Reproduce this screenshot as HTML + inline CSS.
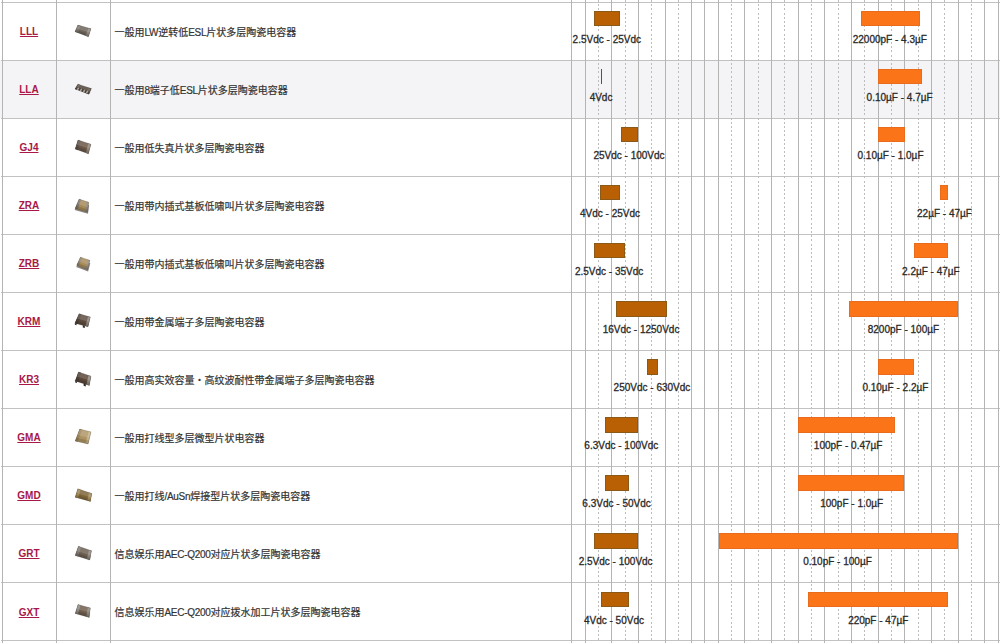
<!DOCTYPE html>
<html lang="zh-CN"><head><meta charset="utf-8"><title>多层陶瓷电容器</title>
<style>
html,body{margin:0;padding:0;background:#fff;}
body{width:1000px;height:643px;overflow:hidden;position:relative;font-family:"Liberation Sans","Noto Sans CJK SC",sans-serif;color:#333;}
.r{position:absolute;left:0;width:1000px;}
.g{background:#f4f4f6;}
.hl{position:absolute;left:1px;width:999px;height:1px;background:#c2c2c2;}
.vl{position:absolute;top:0;height:643px;width:1px;background:#b4b4b4;}
.vd{position:absolute;top:0;height:643px;width:1px;background:repeating-linear-gradient(to bottom,#bcbcbc 0,#bcbcbc 2px,transparent 2px,transparent 4.2px);}
.code{position:absolute;left:2px;width:54px;text-align:center;font-weight:bold;font-size:10px;line-height:12px;}
.code a{color:#a81847;text-decoration:underline;}
.l{letter-spacing:-0.3px;}
.desc{position:absolute;left:114.5px;font-size:10px;line-height:12px;white-space:nowrap;color:#333;-webkit-text-stroke:0.2px #333;}
.bar{position:absolute;height:15.3px;box-sizing:border-box;}
.vb{background:#ba6004;border:1px solid #8a5a16;}
.thin{background:#6a5024;border:0;}
.cb{background:#fc7418;border:1px solid #e86c1c;}
.lb{position:absolute;font-size:10px;line-height:12px;white-space:nowrap;text-align:center;width:200px;color:#2a2a2a;-webkit-text-stroke:0.3px #2a2a2a;}
.chip{position:absolute;}
</style></head><body>

<div class="r g" style="top:60.05px;height:58.05px"></div>
<div class="hl" style="top:1.5px"></div>
<div class="hl" style="top:59.55px"></div>
<div class="hl" style="top:117.6px"></div>
<div class="hl" style="top:175.65px"></div>
<div class="hl" style="top:233.7px"></div>
<div class="hl" style="top:291.75px"></div>
<div class="hl" style="top:349.8px"></div>
<div class="hl" style="top:407.85px"></div>
<div class="hl" style="top:465.9px"></div>
<div class="hl" style="top:523.95px"></div>
<div class="hl" style="top:582px"></div>
<div class="hl" style="top:640.05px"></div>
<div class="vl" style="left:1.5px"></div>
<div class="vl" style="left:55.5px"></div>
<div class="vl" style="left:109.5px"></div>
<div class="vl" style="left:571.25px"></div>
<div class="vl" style="left:584.57px"></div>
<div class="vd" style="left:597.9px"></div>
<div class="vl" style="left:611.22px"></div>
<div class="vd" style="left:624.55px"></div>
<div class="vl" style="left:637.87px"></div>
<div class="vd" style="left:651.19px"></div>
<div class="vl" style="left:664.52px"></div>
<div class="vd" style="left:677.84px"></div>
<div class="vl" style="left:691.17px"></div>
<div class="vl" style="left:704.49px"></div>
<div class="vl" style="left:717.81px"></div>
<div class="vd" style="left:731.14px"></div>
<div class="vl" style="left:744.46px"></div>
<div class="vd" style="left:757.79px"></div>
<div class="vl" style="left:771.11px"></div>
<div class="vd" style="left:784.43px"></div>
<div class="vl" style="left:797.76px"></div>
<div class="vd" style="left:811.08px"></div>
<div class="vl" style="left:824.41px"></div>
<div class="vd" style="left:837.73px"></div>
<div class="vl" style="left:851.05px"></div>
<div class="vd" style="left:864.38px"></div>
<div class="vl" style="left:877.7px"></div>
<div class="vd" style="left:891.03px"></div>
<div class="vl" style="left:904.35px"></div>
<div class="vd" style="left:917.67px"></div>
<div class="vl" style="left:931px"></div>
<div class="vd" style="left:944.32px"></div>
<div class="vl" style="left:957.65px"></div>
<div class="vd" style="left:970.97px"></div>
<div class="vl" style="left:984.29px"></div>
<div class="vl" style="left:997.62px"></div>
<div class="code" style="top:26px"><a>LLL</a></div>
<div class="desc" style="top:26.8px">一般用<span class="l">LW</span>逆转低<span class="l">ESL</span>片状多层陶瓷电容器</div>
<div class="bar vb" style="left:594px;top:11px;width:26px"></div>
<div class="lb" style="left:506.8px;top:34px">2.5Vdc - 25Vdc</div>
<div class="bar cb" style="left:860.5px;top:11px;width:59.5px"></div>
<div class="lb" style="left:789.8px;top:34px">22000pF - 4.3µF</div>
<div class="code" style="top:84.05px"><a>LLA</a></div>
<div class="desc" style="top:84.85px">一般用<span class="l">8</span>端子低<span class="l">ESL</span>片状多层陶瓷电容器</div>
<div class="bar thin" style="left:600.5px;top:69.05px;width:1.5px"></div>
<div class="lb" style="left:501.05px;top:92.05px">4Vdc</div>
<div class="bar cb" style="left:878.3px;top:69.05px;width:43.7px"></div>
<div class="lb" style="left:799.6px;top:92.05px">0.10µF - 4.7µF</div>
<div class="code" style="top:142.1px"><a>GJ4</a></div>
<div class="desc" style="top:142.9px">一般用低失真片状多层陶瓷电容器</div>
<div class="bar vb" style="left:620.5px;top:127.1px;width:17.6px"></div>
<div class="lb" style="left:529px;top:150.1px">25Vdc - 100Vdc</div>
<div class="bar cb" style="left:878.3px;top:127.1px;width:26.3px"></div>
<div class="lb" style="left:790.5px;top:150.1px">0.10µF - 1.0µF</div>
<div class="code" style="top:200.15px"><a>ZRA</a></div>
<div class="desc" style="top:200.95px">一般用带内插式基板低啸叫片状多层陶瓷电容器</div>
<div class="bar vb" style="left:600.3px;top:185.15px;width:20px"></div>
<div class="lb" style="left:510px;top:208.15px">4Vdc - 25Vdc</div>
<div class="bar cb" style="left:940.1px;top:185.15px;width:8.4px"></div>
<div class="lb" style="left:844.5px;top:208.15px">22µF - 47µF</div>
<div class="code" style="top:258.2px"><a>ZRB</a></div>
<div class="desc" style="top:259px">一般用带内插式基板低啸叫片状多层陶瓷电容器</div>
<div class="bar vb" style="left:594px;top:243.2px;width:30.5px"></div>
<div class="lb" style="left:509.1px;top:266.2px">2.5Vdc - 35Vdc</div>
<div class="bar cb" style="left:913.9px;top:243.2px;width:34.6px"></div>
<div class="lb" style="left:830.9px;top:266.2px">2.2µF - 47µF</div>
<div class="code" style="top:316.25px"><a>KRM</a></div>
<div class="desc" style="top:317.05px">一般用带金属端子多层陶瓷电容器</div>
<div class="bar vb" style="left:615.7px;top:301.25px;width:51.1px"></div>
<div class="lb" style="left:541.05px;top:324.25px">16Vdc - 1250Vdc</div>
<div class="bar cb" style="left:848.9px;top:301.25px;width:108.8px"></div>
<div class="lb" style="left:803.45px;top:324.25px">8200pF - 100µF</div>
<div class="code" style="top:374.3px"><a>KR3</a></div>
<div class="desc" style="top:375.1px">一般用高实效容量・高纹波耐性带金属端子多层陶瓷电容器</div>
<div class="bar vb" style="left:647.2px;top:359.3px;width:10.5px"></div>
<div class="lb" style="left:551.95px;top:382.3px">250Vdc - 630Vdc</div>
<div class="bar cb" style="left:878.3px;top:359.3px;width:35.5px"></div>
<div class="lb" style="left:795.4px;top:382.3px">0.10µF - 2.2µF</div>
<div class="code" style="top:432.35px"><a>GMA</a></div>
<div class="desc" style="top:433.15px">一般用打线型多层微型片状电容器</div>
<div class="bar vb" style="left:605.2px;top:417.35px;width:32.9px"></div>
<div class="lb" style="left:521.3px;top:440.35px">6.3Vdc - 100Vdc</div>
<div class="bar cb" style="left:798.4px;top:417.35px;width:96.6px"></div>
<div class="lb" style="left:748.15px;top:440.35px">100pF - 0.47µF</div>
<div class="code" style="top:490.4px"><a>GMD</a></div>
<div class="desc" style="top:491.2px">一般用打线<span class="l">/AuSn</span>焊接型片状多层陶瓷电容器</div>
<div class="bar vb" style="left:605.2px;top:475.4px;width:23.5px"></div>
<div class="lb" style="left:516.55px;top:498.4px">6.3Vdc - 50Vdc</div>
<div class="bar cb" style="left:798.4px;top:475.4px;width:106.1px"></div>
<div class="lb" style="left:751.7px;top:498.4px">100pF - 1.0µF</div>
<div class="code" style="top:548.45px"><a>GRT</a></div>
<div class="desc" style="top:549.25px">信息娱乐用<span class="l">AEC-Q200</span>对应片状多层陶瓷电容器</div>
<div class="bar vb" style="left:594px;top:533.45px;width:44.1px"></div>
<div class="lb" style="left:515.65px;top:556.45px">2.5Vdc - 100Vdc</div>
<div class="bar cb" style="left:719px;top:533.45px;width:238.7px"></div>
<div class="lb" style="left:737.5px;top:556.45px">0.10pF - 100µF</div>
<div class="code" style="top:606.5px"><a>GXT</a></div>
<div class="desc" style="top:607.3px">信息娱乐用<span class="l">AEC-Q200</span>对应拨水加工片状多层陶瓷电容器</div>
<div class="bar vb" style="left:600.7px;top:591.5px;width:28px"></div>
<div class="lb" style="left:513.95px;top:614.5px">4Vdc - 50Vdc</div>
<div class="bar cb" style="left:807.5px;top:591.5px;width:140.9px"></div>
<div class="lb" style="left:778.25px;top:614.5px">220pF - 47µF</div>
<svg style="position:absolute;left:0;top:0" width="120" height="643" viewBox="0 0 120 643"><defs><filter id="bl" x="-20%" y="-20%" width="140%" height="140%"><feGaussianBlur stdDeviation="0.45"/></filter></defs><g filter="url(#bl)"><polygon points="77.9,25.1 91.0,28.7 88.4,36.7 75.0,31.7" fill="#6c645a"/><polygon points="77.9,25.1 80.5,25.8 77.7,32.7 75.0,31.7" fill="#7d776f"/><polygon points="88.4,28.0 91.0,28.7 88.4,36.7 85.7,35.7" fill="#8c867d"/><polygon points="77.9,25.1 91.0,28.7 89.7,32.7 76.4,28.4" fill="#fff" fill-opacity="0.16"/><polygon points="75.8,29.8 89.1,34.5 88.4,36.7 75.0,31.7" fill="#000" fill-opacity="0.14"/><polygon points="77.9,25.1 91.0,28.7 88.4,36.7 75.0,31.7" fill="none" stroke="#000" stroke-opacity="0.2" stroke-width="0.8" stroke-linejoin="round"/><polygon points="77.9,84.2 91.4,88.6 88.9,94.2 75.0,89.0" fill="#4e4239"/><polygon points="77.9,84.2 80.6,85.1 77.8,90.0 75.0,89.0" fill="#5a4f46"/><polygon points="88.7,87.8 91.4,88.6 88.9,94.2 86.1,93.2" fill="#5a4f46"/><polygon points="77.9,84.2 91.4,88.6 90.1,91.4 76.5,86.6" fill="#fff" fill-opacity="0.16"/><polygon points="75.8,87.7 89.6,92.7 88.9,94.2 75.0,89.0" fill="#000" fill-opacity="0.14"/><polygon points="77.9,84.2 91.4,88.6 88.9,94.2 75.0,89.0" fill="none" stroke="#000" stroke-opacity="0.2" stroke-width="0.8" stroke-linejoin="round"/><polygon points="78.0,87.4 79.3,87.9 78.1,90.2 76.7,89.6" fill="#b0aaa2"/><polygon points="81.0,88.5 82.3,89.0 81.1,91.3 79.7,90.8" fill="#b0aaa2"/><polygon points="84.0,89.6 85.4,90.1 84.2,92.4 82.8,91.9" fill="#b0aaa2"/><polygon points="87.0,90.6 88.4,91.1 87.2,93.6 85.8,93.1" fill="#b0aaa2"/><polygon points="78.0,140.1 90.9,144.3 88.4,153.8 75.2,149.1" fill="#6a5646"/><polygon points="78.0,140.1 80.6,140.9 77.8,150.0 75.2,149.1" fill="#5c5048"/><polygon points="88.3,143.4 90.9,144.3 88.4,153.8 85.8,152.9" fill="#8e8274"/><polygon points="78.0,140.1 90.9,144.3 89.7,149.1 76.6,144.6" fill="#fff" fill-opacity="0.16"/><polygon points="76.0,146.5 89.1,151.1 88.4,153.8 75.2,149.1" fill="#000" fill-opacity="0.14"/><polygon points="78.0,140.1 90.9,144.3 88.4,153.8 75.2,149.1" fill="none" stroke="#000" stroke-opacity="0.2" stroke-width="0.8" stroke-linejoin="round"/><polygon points="78.6,202.1 89.1,205.2 88.0,213.8 74.6,210.0" fill="#8a8682"/><polygon points="79.1,199.1 88.6,202.2 87.5,212.2 75.1,208.4" fill="#a68a58"/><polygon points="79.1,199.1 81.0,199.7 77.6,209.2 75.1,208.4" fill="#7a746c"/><polygon points="86.7,201.6 88.6,202.2 87.5,212.2 85.0,211.5" fill="#8c8478"/><polygon points="79.1,199.1 88.6,202.2 88.0,207.2 77.1,203.7" fill="#fff" fill-opacity="0.16"/><polygon points="76.2,205.8 87.8,209.4 87.5,212.2 75.1,208.4" fill="#000" fill-opacity="0.14"/><polygon points="79.1,199.1 88.6,202.2 87.5,212.2 75.1,208.4" fill="none" stroke="#000" stroke-opacity="0.2" stroke-width="0.8" stroke-linejoin="round"/><polygon points="79.9,260.2 90.3,263.3 88.1,271.4 76.2,266.9" fill="#8a8682"/><polygon points="80.4,257.2 89.8,260.3 87.6,269.8 76.7,265.3" fill="#a98c58"/><polygon points="80.4,257.2 82.2,257.8 78.8,266.2 76.7,265.3" fill="#8a8070"/><polygon points="87.9,259.7 89.8,260.3 87.6,269.8 85.4,268.9" fill="#908a80"/><polygon points="80.4,257.2 89.8,260.3 88.7,265.0 78.5,261.2" fill="#fff" fill-opacity="0.16"/><polygon points="77.7,263.0 88.2,267.1 87.6,269.8 76.7,265.3" fill="#000" fill-opacity="0.14"/><polygon points="80.4,257.2 89.8,260.3 87.6,269.8 76.7,265.3" fill="none" stroke="#000" stroke-opacity="0.2" stroke-width="0.8" stroke-linejoin="round"/><polygon points="79.1,313.7 90.3,317.1 88.0,326.7 74.9,323.3" fill="#5c4a3c"/><polygon points="79.1,313.7 81.4,314.4 77.5,323.9 74.9,323.3" fill="#4a4038"/><polygon points="88.1,316.5 90.3,317.1 88.0,326.7 85.4,326.0" fill="#8a847c"/><polygon points="79.1,313.7 90.3,317.1 89.2,321.9 77.0,318.5" fill="#fff" fill-opacity="0.16"/><polygon points="76.1,320.6 88.7,324.0 88.0,326.7 74.9,323.3" fill="#000" fill-opacity="0.14"/><polygon points="79.1,313.7 90.3,317.1 88.0,326.7 74.9,323.3" fill="none" stroke="#000" stroke-opacity="0.2" stroke-width="0.8" stroke-linejoin="round"/><polygon points="82.8,325.3 84.8,325.8 84.8,328.0 82.8,327.5" fill="#2e2824"/><polygon points="74.9,323.3 76.5,323.7 76.5,325.2 74.9,324.8" fill="#2e2824"/><polygon points="78.5,371.9 91.0,376.2 89.3,385.4 75.2,380.9" fill="#5a4638"/><polygon points="78.5,371.9 81.0,372.8 78.0,381.8 75.2,380.9" fill="#4a4038"/><polygon points="88.5,375.3 91.0,376.2 89.3,385.4 86.5,384.5" fill="#8e887e"/><polygon points="78.5,371.9 91.0,376.2 90.1,380.8 76.9,376.4" fill="#fff" fill-opacity="0.16"/><polygon points="76.2,378.4 89.7,382.8 89.3,385.4 75.2,380.9" fill="#000" fill-opacity="0.14"/><polygon points="78.5,371.9 91.0,376.2 89.3,385.4 75.2,380.9" fill="none" stroke="#000" stroke-opacity="0.2" stroke-width="0.8" stroke-linejoin="round"/><polygon points="83.6,383.6 85.8,384.2 85.8,386.4 83.6,385.8" fill="#2e2824"/><polygon points="75.2,380.9 76.9,381.5 76.9,383.0 75.2,382.4" fill="#2e2824"/><polygon points="79.7,429.1 91.0,431.9 88.1,444.0 75.2,441.1" fill="#ad9464"/><polygon points="79.7,429.1 82.0,429.7 77.8,441.7 75.2,441.1" fill="#9a8258"/><polygon points="88.7,431.4 91.0,431.9 88.1,444.0 85.5,443.4" fill="#c4b088"/><polygon points="79.7,429.1 91.0,431.9 89.5,437.9 77.5,435.1" fill="#fff" fill-opacity="0.16"/><polygon points="76.5,437.7 88.9,440.6 88.1,444.0 75.2,441.1" fill="#000" fill-opacity="0.14"/><polygon points="79.7,429.1 91.0,431.9 88.1,444.0 75.2,441.1" fill="none" stroke="#000" stroke-opacity="0.2" stroke-width="0.8" stroke-linejoin="round"/><polygon points="77.8,488.8 91.8,493.6 90.4,501.4 75.2,497.3" fill="#7e6438"/><polygon points="77.8,488.8 80.6,489.8 78.3,498.1 75.2,497.3" fill="#9a8452"/><polygon points="89.0,492.6 91.8,493.6 90.4,501.4 87.3,500.6" fill="#a08a5c"/><polygon points="77.8,488.8 91.8,493.6 91.1,497.5 76.5,493.0" fill="#fff" fill-opacity="0.16"/><polygon points="76.0,494.9 90.8,499.2 90.4,501.4 75.2,497.3" fill="#000" fill-opacity="0.14"/><polygon points="77.8,488.8 91.8,493.6 90.4,501.4 75.2,497.3" fill="none" stroke="#000" stroke-opacity="0.2" stroke-width="0.8" stroke-linejoin="round"/><polygon points="78.4,546.3 91.5,550.8 89.8,560.0 75.2,555.5" fill="#6c5e50"/><polygon points="78.4,546.3 81.0,547.2 78.2,556.4 75.2,555.5" fill="#7e7670"/><polygon points="88.9,549.9 91.5,550.8 89.8,560.0 86.9,559.1" fill="#8a847c"/><polygon points="78.4,546.3 91.5,550.8 90.7,555.4 76.8,550.9" fill="#fff" fill-opacity="0.16"/><polygon points="76.1,552.9 90.3,557.4 89.8,560.0 75.2,555.5" fill="#000" fill-opacity="0.14"/><polygon points="78.4,546.3 91.5,550.8 89.8,560.0 75.2,555.5" fill="none" stroke="#000" stroke-opacity="0.2" stroke-width="0.8" stroke-linejoin="round"/><polygon points="78.0,604.5 90.3,607.9 89.2,617.4 75.2,613.5" fill="#6e5c4c"/><polygon points="78.0,604.5 80.4,605.2 78.0,614.3 75.2,613.5" fill="#8a8680"/><polygon points="87.8,607.2 90.3,607.9 89.2,617.4 86.4,616.6" fill="#8a847c"/><polygon points="78.0,604.5 90.3,607.9 89.8,612.6 76.6,609.0" fill="#fff" fill-opacity="0.16"/><polygon points="76.0,611.0 89.5,614.7 89.2,617.4 75.2,613.5" fill="#000" fill-opacity="0.14"/><polygon points="78.0,604.5 90.3,607.9 89.2,617.4 75.2,613.5" fill="none" stroke="#000" stroke-opacity="0.2" stroke-width="0.8" stroke-linejoin="round"/></g></svg>
</body></html>
